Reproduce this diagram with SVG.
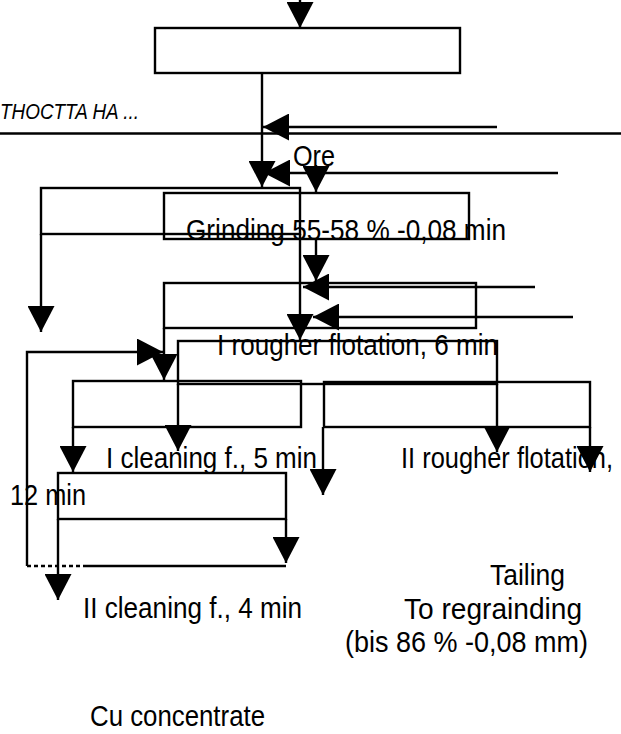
<svg xmlns="http://www.w3.org/2000/svg" width="621" height="734" viewBox="0 0 621 734">
<style>
.box{fill:none;stroke:#000;stroke-width:2.4}
.ln{fill:none;stroke:#000;stroke-width:2.4}
.t{font-family:"Liberation Sans",Arial,sans-serif;font-size:30px;fill:#000}
.it{font-family:"Liberation Sans",Arial,sans-serif;font-size:22px;font-style:italic;fill:#000}
</style>
<defs>
<marker id="ah" viewBox="0 0 26 27" refX="26" refY="13.5" markerWidth="26" markerHeight="27" markerUnits="userSpaceOnUse" orient="auto">
<path d="M0,0 L26,13.5 L0,27 Z" fill="#000"/>
</marker>
</defs>
<rect width="621" height="734" fill="#fff"/>
<g id="header">
<text class="it" x="0" y="119" textLength="139" lengthAdjust="spacingAndGlyphs">THOCTTA HA ...</text>
<path class="ln" d="M0,133.5 L621,133.5" stroke-width="2"/>
</g>
<g id="connectors">
<path class="ln" d="M300,-2 L300,28" marker-end="url(#ah)"/>
<path class="ln" d="M262,73 L262,187" marker-end="url(#ah)"/>
<path class="ln" d="M497,127 L263,127" marker-end="url(#ah)"/>
<path class="ln" d="M558,173 L264,173" marker-end="url(#ah)"/>
<path class="ln" d="M316,165 L316,192" marker-end="url(#ah)"/>
<path class="ln" d="M41,234 L41,332" marker-end="url(#ah)"/>
<path class="ln" d="M300,234 L300,340" marker-end="url(#ah)"/>
<path class="ln" d="M316,239 L316,281" marker-end="url(#ah)"/>
<path class="ln" d="M535,287 L303,287" marker-end="url(#ah)"/>
<path class="ln" d="M573,317 L313,317" marker-end="url(#ah)"/>
<path class="ln" d="M164,328 L164,380" marker-end="url(#ah)"/>
<path class="ln" d="M27,566 L27,352 L163,352" marker-end="url(#ah)"/>
<path class="ln" d="M178,384 L178,451" marker-end="url(#ah)"/>
<path class="ln" d="M497,384 L497,452" marker-end="url(#ah)"/>
<path class="ln" d="M73,427 L73,472" marker-end="url(#ah)"/>
<path class="ln" d="M323,427 L323,495" marker-end="url(#ah)"/>
<path class="ln" d="M590,427 L590,472" marker-end="url(#ah)"/>
<path class="ln" d="M286,519 L286,563" marker-end="url(#ah)"/>
<path class="ln" d="M58,519 L58,600" marker-end="url(#ah)"/>
<path class="ln" d="M87,566 L286,566"/>
<path class="ln" d="M27,566 L87,566" stroke-dasharray="4,3"/>
</g>
<g id="node-feed">
<rect class="box" x="155" y="28" width="305" height="45"/>
</g>
<g id="node-ore">
<text class="t" x="293" y="166" textLength="42" lengthAdjust="spacingAndGlyphs">Ore</text>
</g>
<g id="node-classifier">
<rect class="box" x="41" y="188" width="259" height="46"/>
</g>
<g id="node-grinding">
<rect class="box" x="164" y="193" width="305" height="46"/>
<text class="t" x="186" y="240" textLength="320" lengthAdjust="spacingAndGlyphs">Grinding 55-58 % -0,08 min</text>
</g>
<g id="node-conditioning">
<rect class="box" x="164" y="283" width="312" height="45"/>
</g>
<g id="node-rougher1">
<rect class="box" x="178" y="341" width="319" height="43"/>
<text class="t" x="217" y="355" textLength="281" lengthAdjust="spacingAndGlyphs">I rougher flotation, 6 min</text>
</g>
<g id="node-cleaning1">
<rect class="box" x="73" y="381" width="228" height="46"/>
<text class="t" x="106" y="468" textLength="211" lengthAdjust="spacingAndGlyphs">I cleaning f., 5 min</text>
</g>
<g id="node-rougher2">
<rect class="box" x="324" y="382" width="266" height="45"/>
<text class="t" x="401" y="468" textLength="212" lengthAdjust="spacingAndGlyphs">II rougher flotation,</text>
<text class="t" x="10" y="505" textLength="76" lengthAdjust="spacingAndGlyphs">12 min</text>
</g>
<g id="node-cleaning2">
<rect class="box" x="58" y="473" width="228" height="46"/>
<text class="t" x="83" y="618" textLength="219" lengthAdjust="spacingAndGlyphs">II cleaning f., 4 min</text>
</g>
<g id="node-tailing">
<text class="t" x="490" y="585" textLength="75" lengthAdjust="spacingAndGlyphs">Tailing</text>
<text class="t" x="404" y="619" textLength="178" lengthAdjust="spacingAndGlyphs">To regrainding</text>
<text class="t" x="345" y="652" textLength="243" lengthAdjust="spacingAndGlyphs">(bis 86 % -0,08 mm)</text>
</g>
<g id="node-concentrate">
<text class="t" x="90" y="726" textLength="175" lengthAdjust="spacingAndGlyphs">Cu concentrate</text>
</g>
</svg>
